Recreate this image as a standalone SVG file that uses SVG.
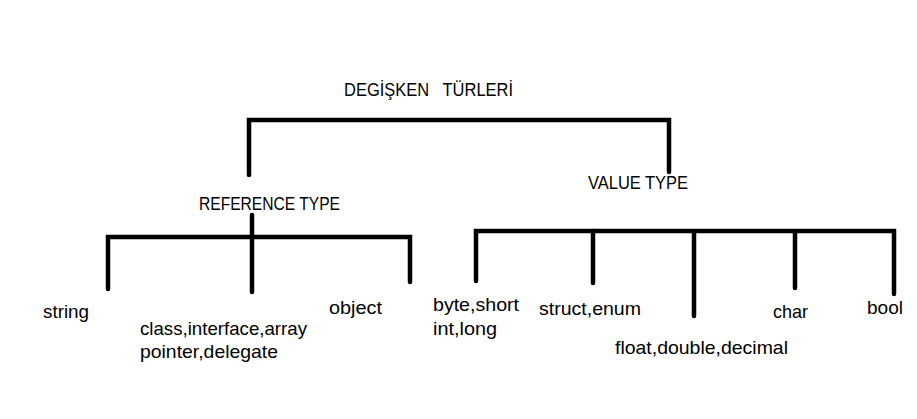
<svg xmlns="http://www.w3.org/2000/svg" width="917" height="419" viewBox="0 0 917 419">
<style>
text{font-family:"Liberation Sans",Arial,sans-serif;font-size:18.5px;fill:#000}
.c{stroke:#000;stroke-width:4.5;fill:none;stroke-linecap:round;stroke-linejoin:miter}
</style>
<rect width="917" height="419" fill="#fff"/>
<g id="connectors">
<path class="c" d="M249,175 V120 H669 V172"/>
<path class="c" d="M108,289 V237 H410 V282"/>
<path class="c" d="M252,215 V292"/>
<path class="c" d="M476,281 V231 H894 V294"/>
<path class="c" d="M593,231 V283"/>
<path class="c" d="M694,233 V316"/>
<path class="c" d="M795,233 V288"/>
</g>
<g id="root"><text x="344" y="96" xml:space="preserve" textLength="169" lengthAdjust="spacingAndGlyphs">DEGİŞKEN   TÜRLERİ</text></g>
<g id="reference-type"><text x="199" y="210" textLength="141" lengthAdjust="spacingAndGlyphs">REFERENCE TYPE</text></g>
<g id="value-type"><text x="588" y="189" textLength="100" lengthAdjust="spacingAndGlyphs">VALUE TYPE</text></g>
<g id="string"><text x="43" y="318" textLength="46" lengthAdjust="spacingAndGlyphs">string</text></g>
<g id="class"><text x="140" y="335" textLength="167" lengthAdjust="spacingAndGlyphs">class,interface,array</text><text x="140" y="358" textLength="138" lengthAdjust="spacingAndGlyphs">pointer,delegate</text></g>
<g id="object"><text x="329" y="314" textLength="53" lengthAdjust="spacingAndGlyphs">object</text></g>
<g id="byte"><text x="433" y="311" textLength="86" lengthAdjust="spacingAndGlyphs">byte,short</text><text x="433" y="335" textLength="64" lengthAdjust="spacingAndGlyphs">int,long</text></g>
<g id="struct"><text x="539" y="315" textLength="102" lengthAdjust="spacingAndGlyphs">struct,enum</text></g>
<g id="float"><text x="615" y="354" textLength="173" lengthAdjust="spacingAndGlyphs">float,double,decimal</text></g>
<g id="char"><text x="773" y="318" textLength="35" lengthAdjust="spacingAndGlyphs">char</text></g>
<g id="bool"><text x="867" y="314" textLength="36" lengthAdjust="spacingAndGlyphs">bool</text></g>
</svg>
